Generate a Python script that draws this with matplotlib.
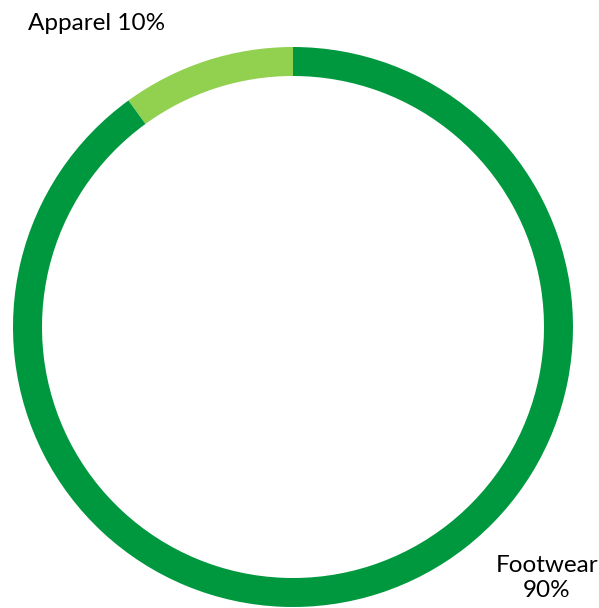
import matplotlib.pyplot as plt

categories = ["Apparel", "Footwear"]
shares = [10, 90]
colors = ["#92D050", "#00983F"]

W, H = 599, 608
fig = plt.figure(figsize=(W / 100, H / 100), dpi=100)
ax = fig.add_axes([0, 0, 1, 1])

# ring centred in pixel coordinates, y measured from the bottom
ax.pie(shares, colors=colors, startangle=90, counterclock=True,
       center=(293, H - 327), radius=280,
       wedgeprops=dict(width=29, linewidth=0), frame=True)
ax.set_xlim(0, W)
ax.set_ylim(0, H)
ax.set_aspect("equal")
ax.axis("off")

ax.text(28, H - 24, f"{categories[0]} {shares[0]}%", fontsize=17.5,
        family="Lato", ha="left", va="center", color="black")
ax.text(547, H - 578, f"{categories[1]}\n{shares[1]}%", fontsize=17.5,
        family="Lato", ha="center", va="center", color="black",
        linespacing=1.2)

fig.savefig("out.png", dpi=100)
